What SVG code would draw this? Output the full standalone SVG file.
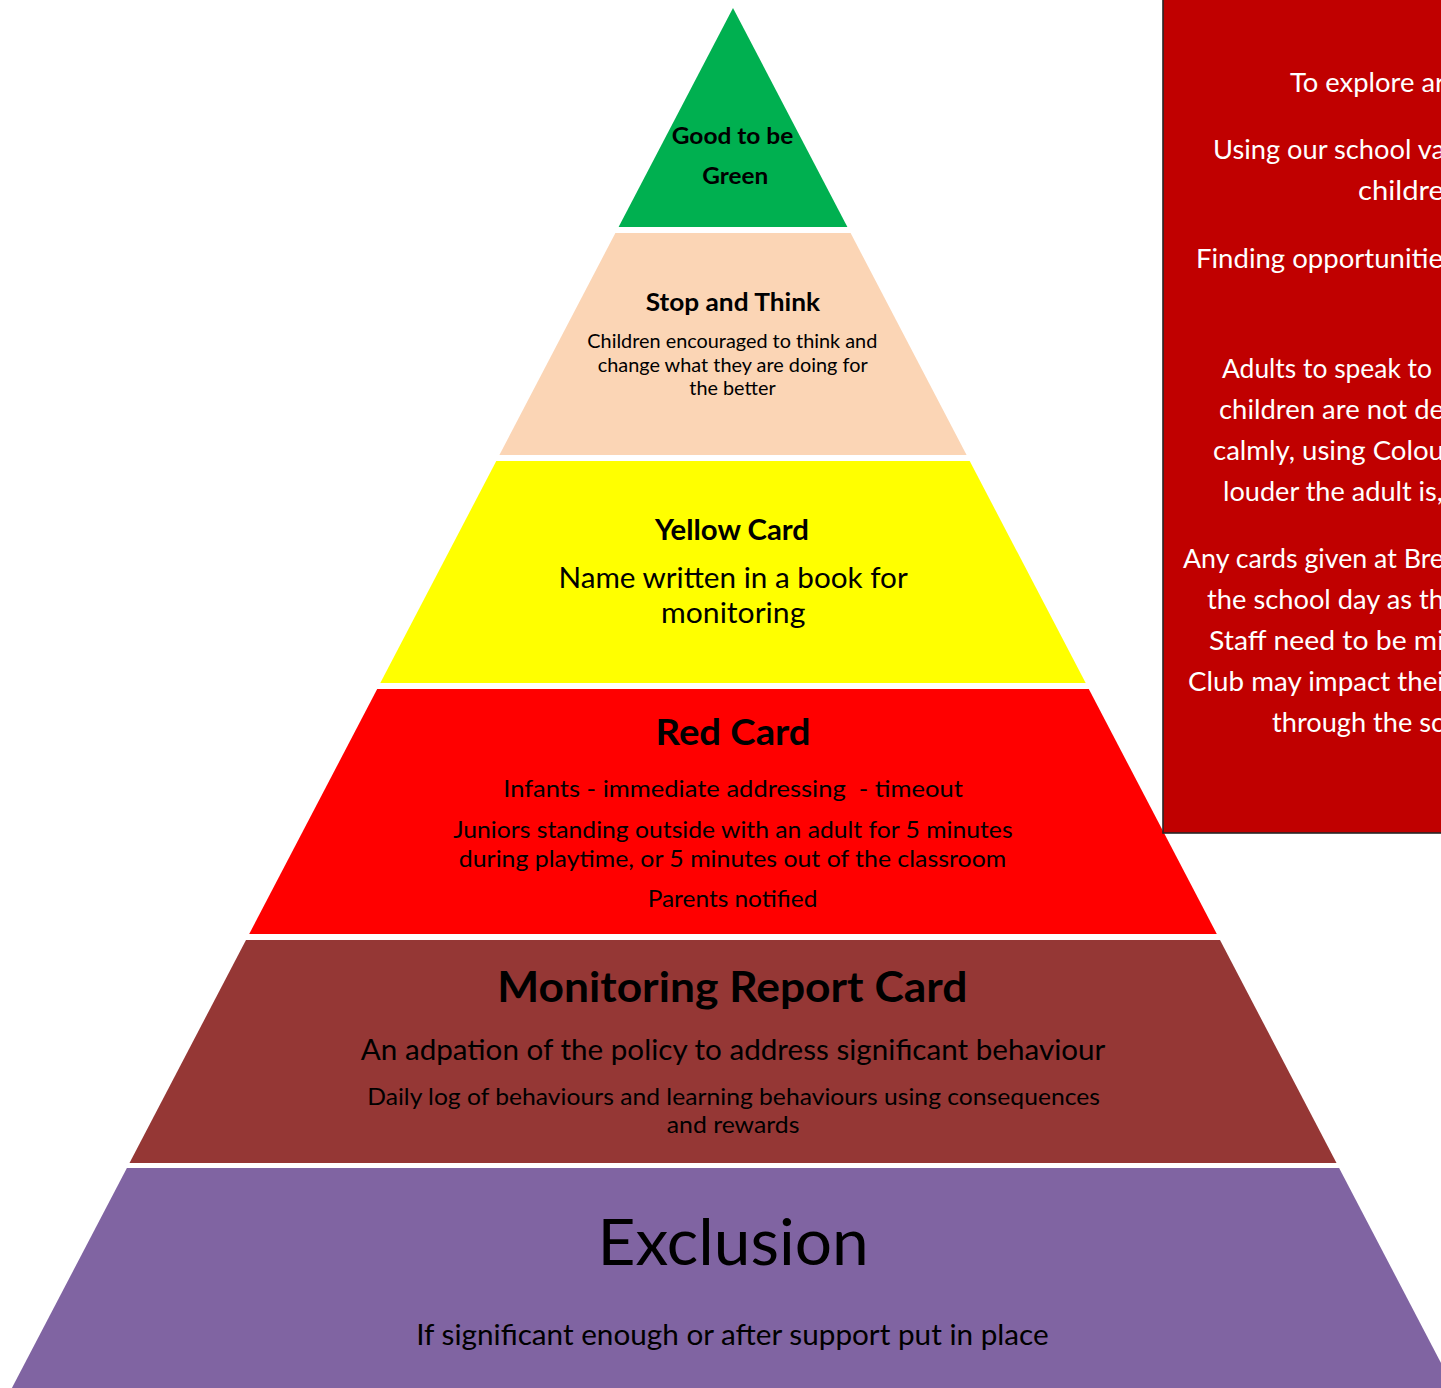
<svg xmlns="http://www.w3.org/2000/svg" width="1441" height="1388" viewBox="0 0 1441 1388">
<style>
  text { font-family: Lato, "Open Sans", "Liberation Sans", sans-serif; fill: #000; }
  .b { font-weight: bold; }
  .w { fill: #fff; }
  .layer { stroke: none; }
</style>
<rect x="0" y="0" width="1441" height="1388" fill="#ffffff"/>
<g id="layer-green">
  <polygon class="layer" points="733,8 847.4,227 618.6,227" fill="#00B050"/>
  <text class="b" x="671.7" y="144" font-size="22.7" textLength="121.6" lengthAdjust="spacingAndGlyphs">Good to be</text>
  <text class="b" x="702.3" y="184" font-size="22.7" textLength="66" lengthAdjust="spacingAndGlyphs">Green</text>
</g>
<g id="layer-stop">
  <polygon class="layer" points="615.4,233 850.6,233 966.6,455 499.4,455" fill="#FBD5B5"/>
  <text class="b" x="645.7" y="310.7" font-size="25" textLength="174.3" lengthAdjust="spacingAndGlyphs">Stop and Think</text>
  <text x="587.3" y="348.3" font-size="18.7" textLength="290" lengthAdjust="spacingAndGlyphs">Children encouraged to think and</text>
  <text x="597.7" y="371.7" font-size="18.7" textLength="270" lengthAdjust="spacingAndGlyphs">change what they are doing for</text>
  <text x="689.3" y="395" font-size="18.7" textLength="86.4" lengthAdjust="spacingAndGlyphs">the better</text>
</g>
<g id="layer-yellow">
  <polygon class="layer" points="496.3,461 969.7,461 1085.7,683 380.3,683" fill="#FFFF00"/>
  <text class="b" x="654.9" y="540" font-size="28" textLength="154.1" lengthAdjust="spacingAndGlyphs">Yellow Card</text>
  <text x="558.5" y="588.3" font-size="29.3" textLength="349.2" lengthAdjust="spacingAndGlyphs">Name written in a book for</text>
  <text x="661" y="623.3" font-size="29.3" textLength="144.3" lengthAdjust="spacingAndGlyphs">monitoring</text>
</g>
<g id="layer-red">
  <polygon class="layer" points="377.2,689 1088.8,689 1216.8,934 249.2,934" fill="#FF0000"/>
  <text class="b" x="655.6" y="745" font-size="36" textLength="155" lengthAdjust="spacingAndGlyphs">Red Card</text>
  <text x="503.2" y="796.7" font-size="23.5" textLength="459.8" lengthAdjust="spacingAndGlyphs" xml:space="preserve">Infants - immediate addressing  - timeout</text>
  <text x="453.2" y="838.3" font-size="23.5" textLength="559.4" lengthAdjust="spacingAndGlyphs">Juniors standing outside with an adult for 5 minutes</text>
  <text x="458.8" y="866.7" font-size="23.5" textLength="547.4" lengthAdjust="spacingAndGlyphs">during playtime, or 5 minutes out of the classroom</text>
  <text x="647.7" y="906.7" font-size="23.5" textLength="169.7" lengthAdjust="spacingAndGlyphs">Parents notified</text>
</g>
<g id="layer-monitoring">
  <polygon class="layer" points="246,940 1220,940 1336.5,1163 129.5,1163" fill="#953735"/>
  <text class="b" x="497.3" y="1001.7" font-size="42" textLength="470.1" lengthAdjust="spacingAndGlyphs">Monitoring Report Card</text>
  <text x="360.8" y="1060" font-size="29.3" textLength="744.6" lengthAdjust="spacingAndGlyphs">An adpation of the policy to address significant behaviour</text>
  <text x="367.2" y="1105" font-size="23.5" textLength="732.8" lengthAdjust="spacingAndGlyphs">Daily log of behaviours and learning behaviours using consequences</text>
  <text x="666.8" y="1133.3" font-size="23.5" textLength="132.6" lengthAdjust="spacingAndGlyphs">and rewards</text>
</g>
<g id="layer-exclusion">
  <polygon class="layer" points="126.9,1168 1339.1,1168 1454.1,1388 11.9,1388" fill="#8064A2"/>
  <text x="597.4" y="1265" font-size="64" textLength="271.4" lengthAdjust="spacingAndGlyphs">Exclusion</text>
  <text x="416.2" y="1345" font-size="29.3" textLength="632.5" lengthAdjust="spacingAndGlyphs">If significant enough or after support put in place</text>
</g>
<g id="info-box">
  <rect x="1163" y="-5" width="300" height="838" fill="#C00000" stroke="#262626" stroke-width="1.6"/>
  <text class="w" x="1290" y="92" font-size="26.7" textLength="155" lengthAdjust="spacingAndGlyphs">To explore ar</text>
  <text class="w" x="1213" y="159" font-size="26.7" textLength="232" lengthAdjust="spacingAndGlyphs">Using our school va</text>
  <text class="w" x="1358" y="200" font-size="26.7" textLength="86" lengthAdjust="spacingAndGlyphs">childre</text>
  <text class="w" x="1196" y="268" font-size="26.7" textLength="247" lengthAdjust="spacingAndGlyphs">Finding opportunitie</text>
  <text class="w" x="1222" y="378" font-size="26.7" textLength="210" lengthAdjust="spacingAndGlyphs">Adults to speak to</text>
  <text class="w" x="1219" y="419" font-size="26.7" textLength="225" lengthAdjust="spacingAndGlyphs">children are not de</text>
  <text class="w" x="1213" y="460" font-size="26.7" textLength="231" lengthAdjust="spacingAndGlyphs">calmly, using Colou</text>
  <text class="w" x="1223" y="501" font-size="26.7" textLength="220" lengthAdjust="spacingAndGlyphs">louder the adult is,</text>
  <text class="w" x="1183" y="568" font-size="26.7" textLength="261" lengthAdjust="spacingAndGlyphs">Any cards given at Bre</text>
  <text class="w" x="1207" y="609" font-size="26.7" textLength="237" lengthAdjust="spacingAndGlyphs">the school day as th</text>
  <text class="w" x="1209" y="650" font-size="26.7" textLength="235" lengthAdjust="spacingAndGlyphs">Staff need to be mi</text>
  <text class="w" x="1188" y="691" font-size="26.7" textLength="256" lengthAdjust="spacingAndGlyphs">Club may impact thei</text>
  <text class="w" x="1272" y="732" font-size="26.7" textLength="172" lengthAdjust="spacingAndGlyphs">through the sc</text>
</g>
</svg>
